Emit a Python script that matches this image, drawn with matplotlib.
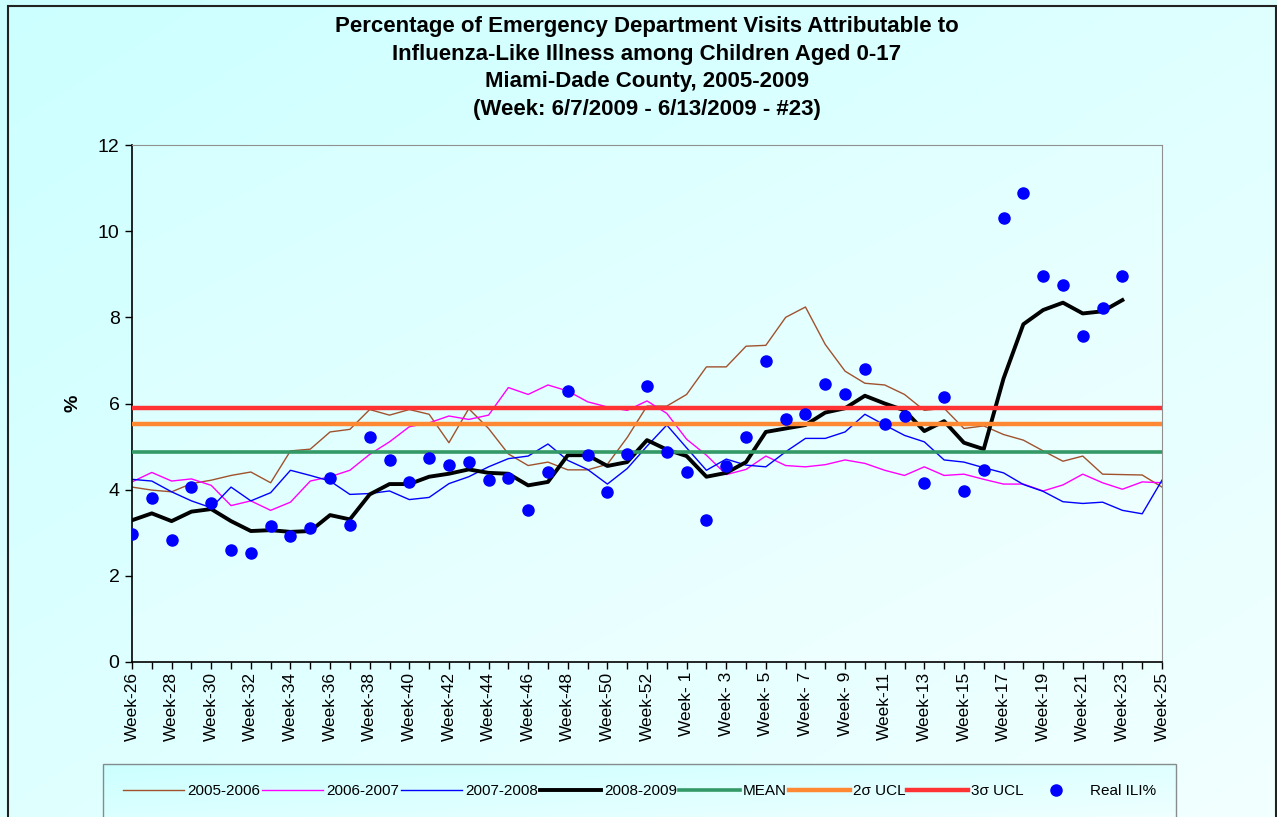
import numpy as np
import matplotlib
matplotlib.use("Agg")
import matplotlib.pyplot as plt
from matplotlib.patches import Rectangle

plt.rcParams['font.family'] = ['Liberation Sans', 'DejaVu Sans']

# week axis: MMWR weeks 26..53 of one year, then 1..25 of the next
weeks = list(range(26, 54)) + list(range(1, 26))
week_labels = [f"Week-{w:2d}" for w in weeks]

s2005_2006 = [4.06, 3.99, 3.95, 4.14, 4.22, 4.33, 4.41, 4.16, 4.90, 4.94,
              5.34, 5.40, 5.86, 5.73, 5.86, 5.75, 5.09, 5.88, 5.42, 4.83,
              4.56, 4.64, 4.46, 4.46, 4.59, 5.21, 5.94, 5.94, 6.21, 6.85,
              6.85, 7.33, 7.35, 8.00, 8.24, 7.37, 6.75, 6.47, 6.43, 6.21,
              5.84, 5.89, 5.42, 5.48, 5.28, 5.15, 4.90, 4.66, 4.78, 4.36,
              4.35, 4.34, 4.06]
s2006_2007 = [4.18, 4.40, 4.20, 4.25, 4.10, 3.63, 3.74, 3.52, 3.71, 4.20,
              4.30, 4.45, 4.82, 5.11, 5.46, 5.55, 5.71, 5.63, 5.73, 6.37,
              6.21, 6.43, 6.29, 6.04, 5.92, 5.84, 6.06, 5.77, 5.17, 4.80,
              4.35, 4.47, 4.78, 4.56, 4.53, 4.58, 4.69, 4.61, 4.45, 4.33,
              4.53, 4.33, 4.36, 4.24, 4.13, 4.13, 3.97, 4.11, 4.36, 4.16,
              4.01, 4.18, 4.16]
s2007_2008 = [4.24, 4.20, 3.95, 3.74, 3.58, 4.06, 3.74, 3.93, 4.45, 4.33,
              4.20, 3.89, 3.91, 3.97, 3.77, 3.82, 4.14, 4.30, 4.53, 4.72,
              4.78, 5.06, 4.68, 4.47, 4.13, 4.49, 5.01, 5.50, 4.97, 4.45,
              4.71, 4.57, 4.53, 4.88, 5.19, 5.19, 5.34, 5.75, 5.50, 5.26,
              5.11, 4.69, 4.64, 4.51, 4.39, 4.12, 3.96, 3.72, 3.68, 3.71,
              3.52, 3.44, 4.22]
s2008_2009 = [3.29, 3.45, 3.27, 3.49, 3.55, 3.27, 3.04, 3.06, 3.02, 3.04,
              3.41, 3.31, 3.89, 4.13, 4.13, 4.30, 4.37, 4.47, 4.39, 4.37,
              4.10, 4.18, 4.80, 4.80, 4.55, 4.64, 5.15, 4.93, 4.78, 4.30,
              4.39, 4.64, 5.34, 5.42, 5.50, 5.79, 5.89, 6.18, 6.00, 5.84,
              5.36, 5.59, 5.09, 4.94, 6.58, 7.84, 8.17, 8.34, 8.09, 8.14,
              8.40]
real_ili = [2.96, 3.81, 2.83, 4.07, 3.70, 2.60, 2.52, 3.15, 2.92, 3.10,
            4.26, 3.17, 5.22, 4.68, 4.18, 4.74, 4.57, 4.65, 4.23, 4.26,
            3.53, 4.40, 6.28, 4.80, 3.95, 4.83, 6.40, 4.88, 4.40, 3.30,
            4.54, 5.22, 6.98, 5.63, 5.75, 6.45, 6.23, 6.81, 5.52, 5.70,
            4.16, 6.14, 3.97, 4.45, 10.31, 10.89, 8.95, 8.74, 7.57, 8.21,
            8.97]
mean_val = 4.87
ucl_2sigma = 5.53
ucl_3sigma = 5.90

title = ("Percentage of Emergency Department Visits Attributable to\n"
         "Influenza-Like Illness among Children Aged 0-17\n"
         "Miami-Dade County, 2005-2009\n"
         "(Week: 6/7/2009 - 6/13/2009 - #23)")

W, H = 1277, 817
fig = plt.figure(figsize=(W / 100, H / 100), dpi=100)


def gradient(c1, c2, n=200):
    # diagonal gradient, top-left c1 to bottom-right c2
    xx, yy = np.meshgrid(np.linspace(0, 1, n), np.linspace(0, 1, n))
    t = (xx + yy) / 2
    c1, c2 = np.array(c1), np.array(c2)
    return c1 + (c2 - c1) * t[..., None]


def px_axes(x0, y0, x1, y1, **kw):
    return fig.add_axes([x0 / W, 1 - y1 / H, (x1 - x0) / W, (y1 - y0) / H], **kw)


bg = px_axes(0, 0, W, H, zorder=-10)
bg.imshow(gradient((0.80, 1, 1), (0.95, 1, 1)), extent=[0, 1, 0, 1], aspect='auto')
bg.set_axis_off()
fig.patches.append(Rectangle((8 / W, -0.1), (1276 - 8) / W, 1.1 - 6 / H,
                             transform=fig.transFigure, fill=False,
                             edgecolor='#222222', linewidth=1.5))

leg_bg = px_axes(103, 764, 1176, 830, zorder=-5)
leg_bg.imshow(gradient((0.80, 1, 1), (0.95, 1, 1)), extent=[0, 1, 0, 1], aspect='auto')
leg_bg.set_axis_off()

ax = px_axes(132, 145, 1162, 662)
ax.set_facecolor('none')
ax.imshow(gradient((0.84, 1, 1), (0.95, 1, 1)), extent=[0, 52, 0, 12],
          aspect='auto', zorder=-1)

x_full = np.arange(len(weeks))
x_cur = np.arange(len(s2008_2009))

ax.plot(x_full, s2005_2006, color='#A0522D', lw=1.0, label='2005-2006', zorder=2)
ax.plot(x_full, s2006_2007, color='#FF00FF', lw=1.0, label='2006-2007', zorder=2)
ax.plot(x_full, s2007_2008, color='#0000FF', lw=1.0, label='2007-2008', zorder=2)
ax.plot(x_cur, s2008_2009, color='black', lw=2.8, label='2008-2009', zorder=3)
ax.axhline(mean_val, color='#339966', lw=2.6, label='MEAN', zorder=4)
ax.axhline(ucl_2sigma, color='#FF8833', lw=3.2, label='2σ UCL', zorder=4)
ax.axhline(ucl_3sigma, color='#FF3333', lw=3.2, label='3σ UCL', zorder=4)
ax.plot(x_cur, real_ili, 'o', color='#0000FF', markersize=8, linestyle='none',
        label='Real ILI%', zorder=5)

ax.set_xlim(0, 52)
ax.set_ylim(0, 12)
ax.set_yticks(range(0, 13, 2))
ax.set_xticks(x_full)
ax.set_xticklabels([lab if i % 2 == 0 else '' for i, lab in enumerate(week_labels)],
                   rotation=90, fontsize=12.5)
ax.tick_params(axis='y', labelsize=14, length=5, width=1, pad=4)
ax.tick_params(axis='x', length=5, width=1, pad=2)
for s in ['top', 'right']:
    ax.spines[s].set_color('#909090')
for s in ['left', 'bottom']:
    ax.spines[s].set_color('black')
    ax.spines[s].set_linewidth(1.2)

ax.set_ylabel('%', fontsize=14, fontweight='bold', labelpad=12)

fig.text(647 / W, 1 - 68 / H, title, ha='center', va='center', fontsize=16,
         fontweight='bold', linespacing=1.4)

leg = fig.legend(loc='upper left', bbox_to_anchor=(103 / W, 1 - 764 / H, (1176 - 103) / W, 0),
                 mode='expand', ncol=8, fontsize=11, handlelength=4.0,
                 handletextpad=0.2, borderpad=1.3, borderaxespad=0,
                 frameon=True, fancybox=False)
leg.get_frame().set_facecolor('none')
leg.get_frame().set_edgecolor('#707070')

fig.savefig('out.png', dpi=100)
